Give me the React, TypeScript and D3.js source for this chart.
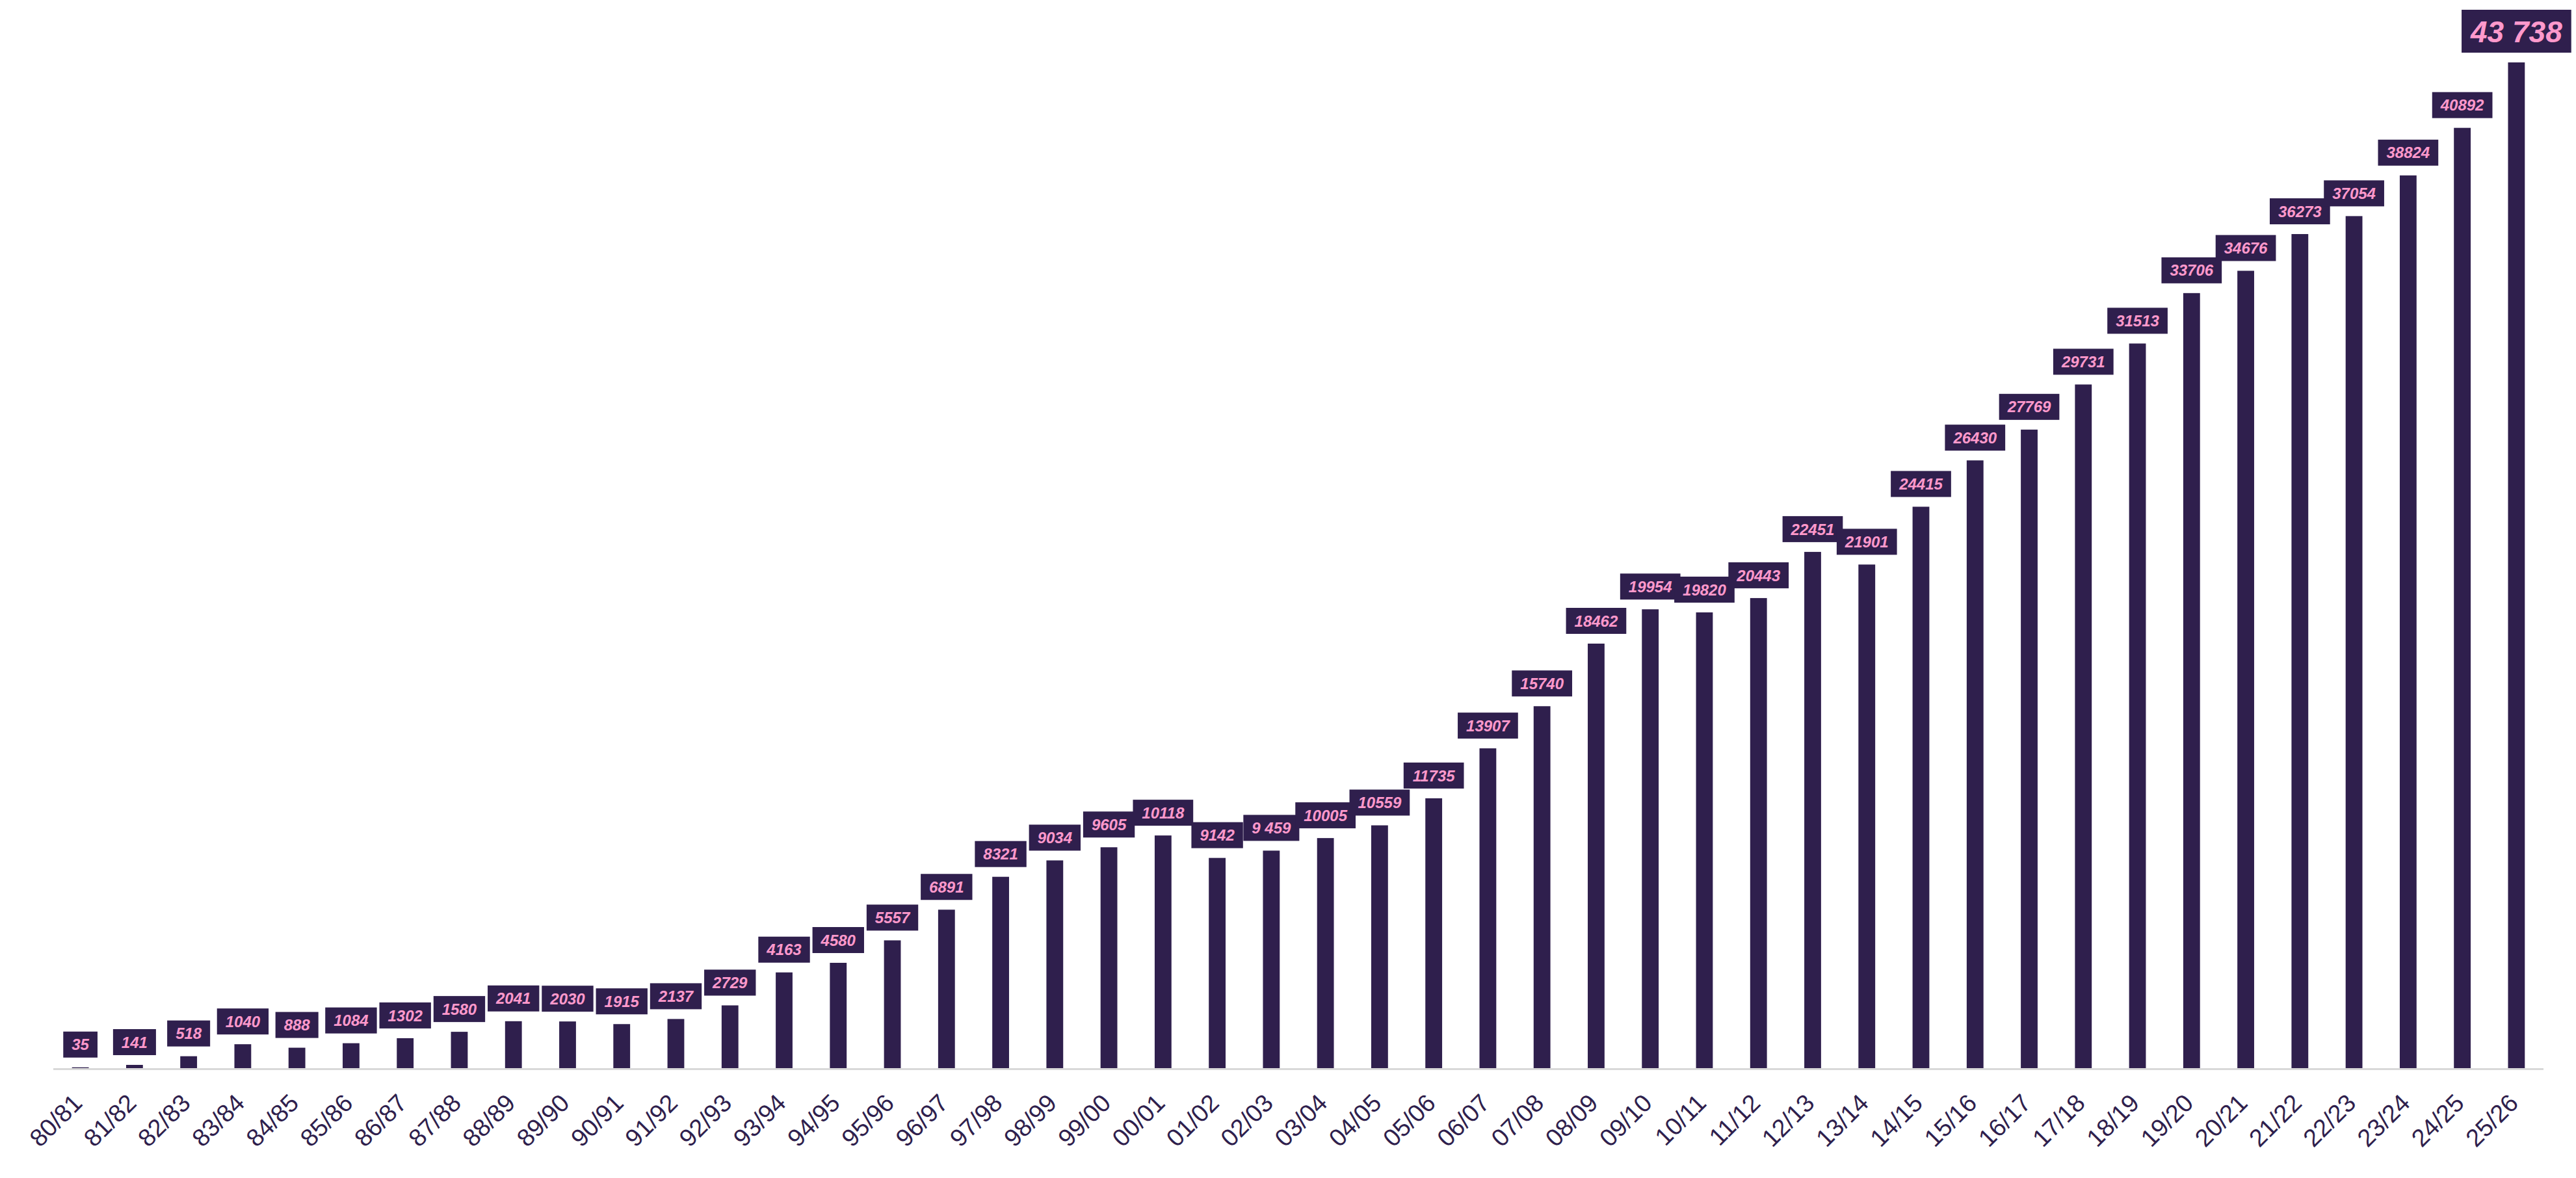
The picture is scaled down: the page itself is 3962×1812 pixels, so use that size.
import React from "react";
import * as d3 from "d3";

const seasons = [
  "80/81","81/82","82/83","83/84","84/85","85/86","86/87","87/88","88/89","89/90",
  "90/91","91/92","92/93","93/94","94/95","95/96","96/97","97/98","98/99","99/00",
  "00/01","01/02","02/03","03/04","04/05","05/06","06/07","07/08","08/09","09/10",
  "10/11","11/12","12/13","13/14","14/15","15/16","16/17","17/18","18/19","19/20",
  "20/21","21/22","22/23","23/24","24/25","25/26",
];
const values = [
  35, 141, 518, 1040, 888, 1084, 1302, 1580, 2041, 2030,
  1915, 2137, 2729, 4163, 4580, 5557, 6891, 8321, 9034, 9605,
  10118, 9142, 9459, 10005, 10559, 11735, 13907, 15740, 18462, 19954,
  19820, 20443, 22451, 21901, 24415, 26430, 27769, 29731, 31513, 33706,
  34676, 36273, 37054, 38824, 40892, 43738,
];
const valueLabels = [
  "35","141","518","1040","888","1084","1302","1580","2041","2030",
  "1915","2137","2729","4163","4580","5557","6891","8321","9034","9605",
  "10118","9142","9 459","10005","10559","11735","13907","15740","18462","19954",
  "19820","20443","22451","21901","24415","26430","27769","29731","31513","33706",
  "34676","36273","37054","38824","40892","43 738",
];

const W = 3962;
const H = 1812;
const DARK = "#2f1f4d";
const PINK = "#ff99cc";
const FONT = "'Liberation Sans', Arial, sans-serif";

function textWidth(s: string, fs: number) {
  let w = 0;
  for (const c of s) w += c === " " ? 0.278 : 0.556;
  return w * fs;
}

export default function App() {
  if (typeof document !== "undefined") document.body.style.margin = "0";
  const x = d3.scaleBand<string>().domain(seasons).range([82, 3912]).padding(0);
  const y = d3.scaleLinear().domain([0, 43738]).range([1643, 96]);
  const bw = x.bandwidth() * 0.31;
  const last = seasons.length - 1;

  return (
    <svg width={W} height={H} style={{ display: "block", background: "#fff" }} fontFamily={FONT}>
      {/* axis line */}
      <line x1={x.range()[0]} x2={x.range()[1]} y1={y(0) + 1.5} y2={y(0) + 1.5} stroke="#d9d9d9" strokeWidth={3} />
      {/* bars */}
      {seasons.map((s, i) => {
        const cx = (x(s) as number) + x.bandwidth() / 2;
        return (
          <rect key={"b" + s} x={cx - bw / 2} y={y(values[i])} width={bw} height={y(0) - y(values[i])} fill={DARK} />
        );
      })}
      {/* value labels */}
      {seasons.map((s, i) => {
        const cx = (x(s) as number) + x.bandwidth() / 2;
        const big = i === last;
        const fs = big ? 46 : 24;
        const bh = big ? 66 : 40;
        const pad = big ? 14 : 13;
        const tw = textWidth(valueLabels[i], fs);
        const boxW = tw + pad * 2;
        const bottom = y(values[i]) - 15;
        return (
          <g key={"l" + s}>
            <rect x={cx - boxW / 2} y={bottom - bh} width={boxW} height={bh} fill={DARK} />
            <text
              x={cx}
              y={bottom - bh / 2}
              dy="0.36em"
              textAnchor="middle"
              fontSize={fs}
              fontWeight="bold"
              fontStyle="italic"
              fill={PINK}
            >
              {valueLabels[i]}
            </text>
          </g>
        );
      })}
      {/* category labels */}
      {seasons.map((s) => {
        const cx = (x(s) as number) + x.bandwidth() / 2;
        return (
          <text
            key={"c" + s}
            transform={`translate(${cx + 5},${y(0) + 56}) rotate(-45)`}
            textAnchor="end"
            fontSize={38}
            fill={DARK}
          >
            {s}
          </text>
        );
      })}
    </svg>
  );
}
